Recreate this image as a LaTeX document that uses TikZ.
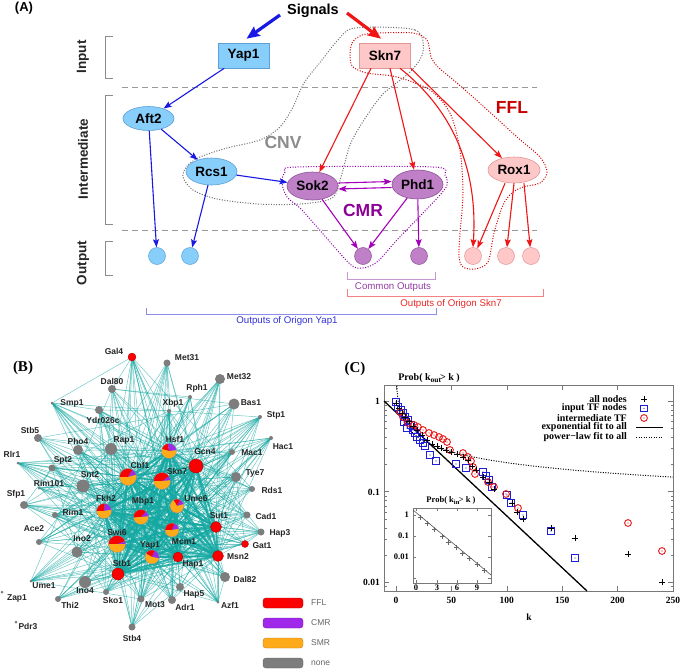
\documentclass[tikz,border=0pt]{standalone}
\usepackage{fontspec}
\setmainfont{Liberation Sans}
\newfontfamily\tms{Liberation Serif}
\usetikzlibrary{arrows.meta,shapes.geometric,calc}
\newcommand\fsz[1]{\fontsize{#1}{#1}\selectfont}
\definecolor{nblue}{RGB}{135,206,250}
\definecolor{nbluebd}{RGB}{95,160,215}
\definecolor{npink}{RGB}{255,200,200}
\definecolor{npinkbd}{RGB}{225,150,150}
\definecolor{npur}{RGB}{192,128,200}
\definecolor{npurbd}{RGB}{140,85,150}
\definecolor{ablue}{RGB}{25,25,230}
\definecolor{ared}{RGB}{240,20,20}
\definecolor{apur}{RGB}{165,0,185}
\definecolor{lgray}{RGB}{110,110,110}
\definecolor{lred}{RGB}{210,0,0}
\definecolor{lpur}{RGB}{140,0,165}
\definecolor{tcnv}{RGB}{140,140,140}
\definecolor{tcmr}{RGB}{140,0,150}
\definecolor{tffl}{RGB}{200,0,0}
\definecolor{bcom}{RGB}{200,150,210}
\definecolor{tcom}{RGB}{150,60,165}
\definecolor{bskn}{RGB}{245,130,130}
\definecolor{tskn}{RGB}{235,40,40}
\definecolor{byap}{RGB}{140,140,235}
\definecolor{tyap}{RGB}{50,50,215}
\definecolor{edgec}{RGB}{20,168,162}
\definecolor{gnode}{RGB}{125,125,125}
\definecolor{rnode}{RGB}{250,0,0}
\definecolor{onode}{RGB}{255,170,25}
\definecolor{pnode}{RGB}{160,40,235}
\definecolor{cblue}{RGB}{30,30,220}
\definecolor{cred}{RGB}{235,20,20}
\definecolor{cframe}{RGB}{120,120,120}
\newcommand\bpie[6]{%
 \fill[pnode] (#1) -- ++(#3:#2) arc[start angle=#3,end angle=#4,radius=#2] -- cycle;
 \fill[rnode] (#1) -- ++(#4:#2) arc[start angle=#4,end angle=#5,radius=#2] -- cycle;
 \fill[onode] (#1) -- ++(#5:#2) arc[start angle=#5,end angle=#6,radius=#2] -- cycle;
 \draw[black!45,line width=0.3pt] (#1) circle[radius=#2];}
\tikzset{
 anode/.style={font=\fsz{13.5}\bfseries, inner sep=0pt, line width=0.6pt},
 abox/.style={anode, rectangle, minimum width=51pt, minimum height=25pt},
 aell/.style={anode, ellipse, minimum width=51pt, minimum height=26pt},
 bluef/.style={fill=nblue, draw=nbluebd},
 pinkf/.style={fill=npink, draw=npinkbd},
 purf/.style={fill=npur, draw=npurbd},
 outc/.style={circle, minimum size=17pt, inner sep=0pt, line width=0.5pt},
 arr/.style={-{Stealth[length=8pt,width=6pt,inset=1.5pt]}, line width=1.1pt},
 sigarr/.style={-{Stealth[length=13pt,width=11pt,inset=2pt]}, line width=3.2pt},
 loopd/.style={line width=1pt, dash pattern=on 1pt off 1.6pt},
 brk/.style={draw=black!45, line width=0.7pt},
 rowlab/.style={rotate=90, font=\fsz{13.5}\bfseries, text=black!85},
 motif/.style={font=\fsz{17.5}\bfseries},
 dashl/.style={draw=black!40, line width=0.7pt, dash pattern=on 6pt off 4pt},
 otxt/.style={font=\fsz{9.7}},
 blab/.style={font=\fsz{8.5}\bfseries, text=black!85, inner sep=0pt},
 pedge/.style={draw=edgec, line width=0.5pt, opacity=0.6},
 hedge/.style={draw=edgec, line width=1.7pt, opacity=0.85},
 legb/.style={rounded corners=3pt, line width=0.4pt},
 legt/.style={font=\fsz{8.5}, text=black!60, anchor=west, inner sep=0pt},
 ctxt/.style={font=\tms\bfseries\fsz{10}, inner sep=0pt},
 ctick/.style={font=\tms\bfseries\fsz{9.5}, inner sep=0pt},
 itick/.style={font=\tms\bfseries\fsz{8.5}, inner sep=0pt},
 pdot/.style={line width=1pt, dash pattern=on 1pt off 1.5pt},
}
\begin{document}
\begin{tikzpicture}[x=1pt,y=1pt]
\useasboundingbox (0,0) rectangle (685,-669);
\fill[white] (0,0) rectangle (685,-669);

%%%%%%%%%%%%%%%% Panel A
\node[font=\fsz{13}\bfseries] (pa) at (24,-8) {(A)};
\node[font=\fsz{14.5}\bfseries] (sig) at (313,-11) {Signals};

\draw[dashl] (122,-87) -- (537,-87);
\draw[dashl] (122,-230) -- (537,-230);
\draw[brk] (113,-36) -- (105,-36) -- (105,-78) -- (113,-78);
\draw[brk] (113,-95) -- (105,-95) -- (105,-224) -- (113,-224);
\draw[brk] (113,-241) -- (105,-241) -- (105,-275) -- (113,-275);
\node[rowlab] (rin) at (83,-57) {Input};
\node[rowlab] (rint) at (83,-159) {Intermediate};
\node[rowlab] (rout) at (83,-263) {Output};

% motif loops
\draw[loopd, lgray] plot[smooth cycle] coordinates {(355,-28) (415,-30) (423,-52) (410,-72) (383,-94) (364,-120) (350,-145) (341,-177) (332,-198) (300,-204) (258,-204) (217,-199) (193,-190) (183,-177) (187,-166) (200,-157) (227,-148) (260,-140) (280,-127) (293,-107) (304,-83) (322,-60) (338,-40)};
\draw[loopd, lred] plot[smooth cycle] coordinates {(350,-57) (352,-43) (362,-35) (380,-33) (413,-33) (427,-40) (431,-57) (438,-67) (457,-83) (483,-106) (517,-137) (540,-157) (547,-172) (540,-183) (523,-187) (512,-193) (503,-205) (494,-233) (488,-262) (475,-269) (463,-267) (459,-257) (460,-233) (463,-193) (460,-150) (450,-113) (430,-90) (397,-77) (367,-73) (353,-67)};
\draw[loopd, lpur] plot[smooth cycle] coordinates {(297,-167) (433,-167) (445,-175) (447,-185) (440,-195) (423,-213) (397,-240) (377,-262) (363,-268) (350,-264) (317,-227) (300,-208) (287,-197) (282,-183) (285,-172)};

\node[motif, text=tcnv] (cnv) at (283,-142) {CNV};
\node[motif, text=tcmr] (cmr) at (363,-210) {CMR};
\node[motif, text=tffl] (ffl) at (512,-107) {FFL};

\node[abox,bluef] (yap) at (243.5,-55.5) {Yap1};
\node[abox,pinkf] (skn) at (385,-55.5) {Skn7};
\node[aell,bluef,minimum height=24pt] (aft) at (148.5,-118.5) {Aft2};
\node[aell,bluef,minimum height=27pt] (rcs) at (211.5,-171.5) {Rcs1};
\node[aell,purf,minimum height=28pt] (sok) at (312.5,-186) {Sok2};
\node[aell,purf,minimum height=29pt] (phd) at (417.5,-184.5) {Phd1};
\node[aell,pinkf,minimum height=26pt,minimum width=52pt] (rox) at (514,-170) {Rox1};
\node[outc,bluef] (o1) at (157,-256) {};
\node[outc,bluef] (o2) at (190,-256) {};
\node[outc,purf] (o3) at (363,-256) {};
\node[outc,purf] (o4) at (419,-256) {};
\node[outc,pinkf] (o5) at (473,-256) {};
\node[outc,pinkf] (o6) at (506,-256) {};
\node[outc,pinkf] (o7) at (531,-256) {};

\coordinate (sb) at (280,-15);
\coordinate (sr) at (347,-13);
\draw[sigarr, ablue] (sb) -- ([xshift=3pt,yshift=4pt]yap.north);
\draw[sigarr, ared] (sr) -- ([xshift=-4pt,yshift=4pt]skn.north);

\draw[arr,ablue] (yap) -- (aft);
\draw[arr,ablue] (aft) -- (rcs);
\draw[arr,ablue] (aft) -- (o1);
\draw[arr,ablue] (rcs) -- (o2);
\draw[arr,ablue] (rcs) -- (sok);
\draw[arr,ared] ([xshift=-14pt]skn.south) -- (sok);
\draw[arr,ared] ([xshift=5pt]skn.south) -- (phd);
\draw[arr,ared] (skn.south east) -- (rox);
\draw[arr,ared] ([xshift=15pt]skn.south) .. controls (455,-112) and (478,-172) .. (o5.north);
\draw[arr,ared] ([xshift=-9pt]rox.south) -- (o5.60);
\draw[arr,ared] (rox.south) -- (o6);
\draw[arr,ared] ([xshift=10pt]rox.south) -- (o7);
\draw[arr,apur] ([yshift=3pt]sok.east) -- ([yshift=3pt]phd.west);
\draw[arr,apur] ([yshift=-3pt]phd.west) -- ([yshift=-3pt]sok.east);
\draw[arr,apur] (sok) -- (o3);
\draw[arr,apur] (phd) -- (o3);
\draw[arr,apur] (phd) -- (o4);

\draw[draw=bcom, line width=0.7pt] (347,-272) -- (347,-279) -- (435,-279) -- (435,-272);
\draw[draw=bskn, line width=0.7pt] (347,-289) -- (347,-296) -- (543,-296) -- (543,-289);
\draw[draw=byap, line width=0.7pt] (146,-308) -- (146,-314) -- (436,-314) -- (436,-308);
\node[otxt, text=tcom] (tcom) at (393,-287) {Common Outputs};
\node[otxt, text=tskn] (tskn) at (451,-304) {Outputs of Origon Skn7};
\node[otxt, text=tyap] (tyap) at (287,-321) {Outputs of Origon Yap1};

%%%%%%%%%%%%%%%% Panel B
\node[font=\tms\bfseries\fsz{15}] (pb) at (23,-368) {(B)};
\def\glist{met31/167/363/3.5, met32/220/379/5, dal80/112/389/4, rph1/190/397/2, smp1/52/403/1.5, xbp1/169/411/2, bas1/234/404/5.5, ydr/99/410/4, stp1/260/417/2, stb5/38/438/4, hac1/271/438/2, pho4/78/450/5, rap1/111/449/6, mac1/232/452/3, rlr1/18/463/1.5, spt2/52/468/3.5, snt2/83/486/6.5, rim101/39/488/1.5, tye7/236/477/5, rds1/252/489/3, sfp1/24/505/4, rim1/55/515/3, cad1/247/515/3.5, hap3/261/532/3.5, ace2/39/542/3, ino2/77/552/5.5, dal82/225/577/5, ume1/31/581/1.5, ino4/85/582/6, hap5/180/587/4, zap1/2/592/1.5, sko1/106/592/3, thi2/58/599/3, mot3/141/599/3.5, adr1/172/600/4, azf1/218/602/1.5, pdr3/16/622/1.5, stb4/132/627/3.5}
\def\rlist{gal4/132/357/4, gcn4/196/466/7, sut1/216/527/5.5, gat1/245/544/3.5, msn2/218/556/5.5, hap1/178/557/5, stb1/118/574/6}
\def\plist{hsf1/169/451/7.5/5/100/165/365, cbf1/128/477/8.5/15/60/180/375, skn7/162/481/8.5/5/35/180/365, fkh2/104/511/7.5/10/85/180/370, mbp1/141/517/7.5/5/50/185/365, ume6/177/506/7/15/65/120/375, mcm/172/530/7/10/70/180/370, swi6/117/544/8.5/0/20/180/360, yap1/152/557/7/-10/70/150/350}
\foreach \n/\x/\y/\r in \glist {\coordinate (b\n) at (\x,-\y);}
\foreach \n/\x/\y/\r in \rlist {\coordinate (b\n) at (\x,-\y);}
\foreach \n/\x/\y/\r/\o/\p/\q/\e in \plist {\coordinate (b\n) at (\x,-\y);}
\def\hubs{hsf1,cbf1,skn7,fkh2,mbp1,ume6,mcm,swi6,yap1,gcn4,sut1,msn2,hap1,stb1}
\def\peris{gal4,met31,met32,dal80,rph1,smp1,xbp1,bas1,ydr,stp1,stb5,hac1,pho4,rap1,mac1,rlr1,spt2,snt2,rim101,tye7,rds1,sfp1,rim1,cad1,hap3,ace2,ino2,dal82,ume1,ino4,hap5,sko1,thi2,mot3,adr1,azf1,stb4,gat1}
\pgfmathsetseed{11}
\foreach \a in \hubs {\foreach \b in \peris {%
  \pgfmathtruncatemacro\ok{rnd<0.72 ? 1 : 0}%
  \ifnum\ok=1 \draw[pedge] (b\a) -- (b\b);\fi}}
\foreach \a [count=\i] in \peris {\foreach \b [count=\j] in \peris {%
  \ifnum\i<\j \pgfmathtruncatemacro\ok{rnd<0.07 ? 1 : 0}%
  \ifnum\ok=1 \draw[pedge] (b\a) -- (b\b);\fi\fi}}
\foreach \a [count=\i] in \hubs {\foreach \b [count=\j] in \hubs {%
  \ifnum\i<\j \draw[hedge] (b\a) -- (b\b);\fi}}
\foreach \n/\x/\y/\r in \glist {\fill[gnode] (b\n) circle[radius=\r];}
\foreach \n/\x/\y/\r in \rlist {\filldraw[fill=rnode, draw=red!65!black, line width=0.3pt] (b\n) circle[radius=\r];}
\foreach \n/\x/\y/\r/\o/\p/\q/\e in \plist {\bpie{b\n}{\r}{\o}{\p}{\q}{\e}}
\foreach \t/\x/\y in {Gal4/114/351, Met31/187/358, Met32/239/377, Dal80/112/381, Rph1/197/388, Smp1/72/403, Xbp1/173/403, Bas1/251/403, Ydr026c/103/420, Stp1/276/415, Stb5/30/430, Hac1/283/447, Pho4/78/441, Rap1/124/440, Hsf1/175/439, Gcn4/205/452, Mac1/252/453, Rlr1/12/454, Spt2/63/460, Cbf1/140/465, Skn7/177/471, Snt2/90/475, Rim101/49/483, Tye7/255/473, Rds1/272/490, Sfp1/16/494, Fkh2/106/498, Rim1/73/512, Mbp1/143/501, Ume6/196/499, Sut1/219/516, Cad1/266/516, Hap3/280/533, Ace2/34/529, Swi6/117/532, Mcm1/184/542, Ino2/82/539, Yap1/150/545, Gat1/262/546, Msn2/238/557, Stb1/122/563, Hap1/193/564, Dal82/245/579, Ume1/44/586, Ino4/85/591, Hap5/194/594, Zap1/17/598, Sko1/113/600, Thi2/70/605, Mot3/155/605, Adr1/185/607, Azf1/230/605, Pdr3/28/626, Stb4/132/638}
  {\node[blab] (l\t) at (\x,-\y) {\t};}
% legend
\filldraw[legb, fill=rnode, draw=red!70!black] (263,-598) rectangle (303,-608);
\filldraw[legb, fill=pnode, draw=pnode!70!black] (263,-618) rectangle (303,-628);
\filldraw[legb, fill=onode, draw=onode!75!black] (263,-638) rectangle (303,-648);
\filldraw[legb, fill=gnode, draw=gnode!80!black] (263,-658) rectangle (303,-668);
\node[legt] (lffl) at (311,-603) {FFL};
\node[legt] (lcmr) at (311,-623) {CMR};
\node[legt] (lsmr) at (311,-643) {SMR};
\node[legt] (lnone) at (311,-663) {none};

%%%%%%%%%%%%%%%% Panel C
\node[font=\tms\bfseries\fsz{15}] (pc) at (355,-369) {(C)};
\node[ctxt] (ctitle) at (429,-378) {Prob( k\raisebox{-2.5pt}{\fsz{7.5}out}\kern-1pt> k )};
\draw[cframe, line width=0.6pt] (384,-385) rectangle (673,-591);
\foreach \x in {396,451.4,506.8,562.2,617.6,673} {\draw[cframe, line width=0.5pt] (\x,-591) -- (\x,-586) (\x,-385) -- (\x,-390);}
\foreach \y in {401,491.7,582.4} {\draw[cframe, line width=0.5pt] (384,-\y) -- (389,-\y) (673,-\y) -- (668,-\y);}
\foreach \m in {2,...,9} {\pgfmathsetmacro\ya{491.7-90.7*log10(\m)}\pgfmathsetmacro\yb{\ya+90.7}%
  \draw[cframe, line width=0.5pt] (384,-\ya) -- (386.5,-\ya) (673,-\ya) -- (670.5,-\ya) (384,-\yb) -- (386.5,-\yb) (673,-\yb) -- (670.5,-\yb);}
\draw[cframe, line width=0.5pt] (384,-586.6) -- (386.5,-586.6) (673,-586.6) -- (670.5,-586.6);
\foreach \k/\x in {0/396,50/451.4,100/506.8,150/562.2,200/617.6,250/673} {\node[ctick] (xt\k) at (\x,-600) {\k};}
\node[ctick, anchor=east] (yt1) at (380,-401) {1};
\node[ctick, anchor=east] (yt2) at (380,-492) {0.1};
\node[ctick, anchor=east] (yt3) at (380,-582) {0.01};
\node[ctick] (xk) at (529,-617) {k};
% fits
\draw[black, line width=1.3pt] (384,-401) -- (587,-591);
\draw[black, pdot] plot[domain=-0.12:2.398, samples=90, variable=\u] ({396+1.108*pow(10,\u)}, {-(401-90.7*(0.12-0.4*\u))});
% data
\foreach \x/\y in {396/402,398/407,401/410,403/413,405/417,408/420,411/425,413/430,415/433,417/437,420/440,423/443,425/446,407/428,404/422,430/455,436/461,456/464,466/468,483/472,486/476,489/480,492/487,507/495,511/503,523/515,551/531,575/558}
  {\draw[cblue, line width=0.9pt] (\x-3.3,-\y-3.3) rectangle (\x+3.3,-\y+3.3); \fill[cblue] (\x,-\y) circle[radius=0.6];}
\foreach \x/\y in {400/412,403/417,408/423,414/425,418/427,423/430,429/433,434/435,439/437,443/439,447/442,450/450,463/453,468/457,471/461,473/467,475/474,488/482,494/487,506/494,518/508,628/523,662/551}
  {\draw[cred, line width=0.9pt] (\x,-\y) circle[radius=3.4]; \fill[cred] (\x,-\y) circle[radius=0.7];}
\foreach \x/\y in {396/403,399/408,402/413,405/417,409/421,413/426,417/430,422/435,427/440,432/444,437/446,441/448,446/450,451/452,457/454,463/457,468/460,472/466,476/470,483/477,489/482,494/489,512/503,517/512,523/519,551/528,575/538,628/554,662/582}
  {\draw[black, line width=0.9pt] (\x-3,-\y) -- (\x+3,-\y) (\x,-\y-3) -- (\x,-\y+3);}
% legend
\node[ctxt, anchor=east] (lg1) at (627,-399) {all nodes};
\node[ctxt, anchor=east] (lg2) at (627,-408.5) {input TF nodes};
\node[ctxt, anchor=east] (lg3) at (627,-418) {intermediate TF};
\node[ctxt, anchor=east] (lg4) at (627,-427.5) {exponential fit to all};
\node[ctxt, anchor=east] (lg5) at (627,-437) {power−law fit to all};
\draw[black, line width=0.9pt] (641,-399) -- (647,-399) (644,-396) -- (644,-402);
\draw[cblue, line width=0.9pt] (640.7,-405.2) rectangle (647.3,-411.8); \fill[cblue] (644,-408.5) circle[radius=0.6];
\draw[cred, line width=0.9pt] (644,-418) circle[radius=3.4]; \fill[cred] (644,-418) circle[radius=0.7];
\draw[black, line width=1.3pt] (636,-427.5) -- (663,-427.5);
\draw[black, pdot] (636,-437) -- (663,-437);
% inset
\filldraw[fill=white, draw=cframe, line width=0.5pt] (413,-508) rectangle (491,-583);
\node[itick] (ititle) at (451,-501) {Prob( k\raisebox{-2pt}{\fsz{6.5}in}\kern-0.5pt> k )};
\foreach \y in {515,536,557,578} {\draw[cframe, line width=0.4pt] (413,-\y) -- (416,-\y) (491,-\y) -- (488,-\y);}
\foreach \x in {416,437,457,477} {\draw[cframe, line width=0.4pt] (\x,-583) -- (\x,-580) (\x,-508) -- (\x,-511);}
\node[itick, anchor=east] (iy1) at (409,-515) {1};
\node[itick, anchor=east] (iy2) at (409,-536) {0.1};
\node[itick, anchor=east] (iy3) at (409,-557) {0.01};
\foreach \t/\x in {0/416,3/437,6/457,9/477} {\node[itick] (ix\t) at (\x,-588) {\t};}
\draw[black!65, line width=0.6pt] (413,-510) -- (491,-575);
\foreach \x/\y in {420/517,427/523,434/529,442/536,448/542,456/547,462/553,469/558,477/564,484/570}
  {\draw[black!60, line width=0.5pt] (\x-2.5,-\y) -- (\x+2.5,-\y) (\x,-\y-2.5) -- (\x,-\y+2.5);}
\end{tikzpicture}
\end{document}
